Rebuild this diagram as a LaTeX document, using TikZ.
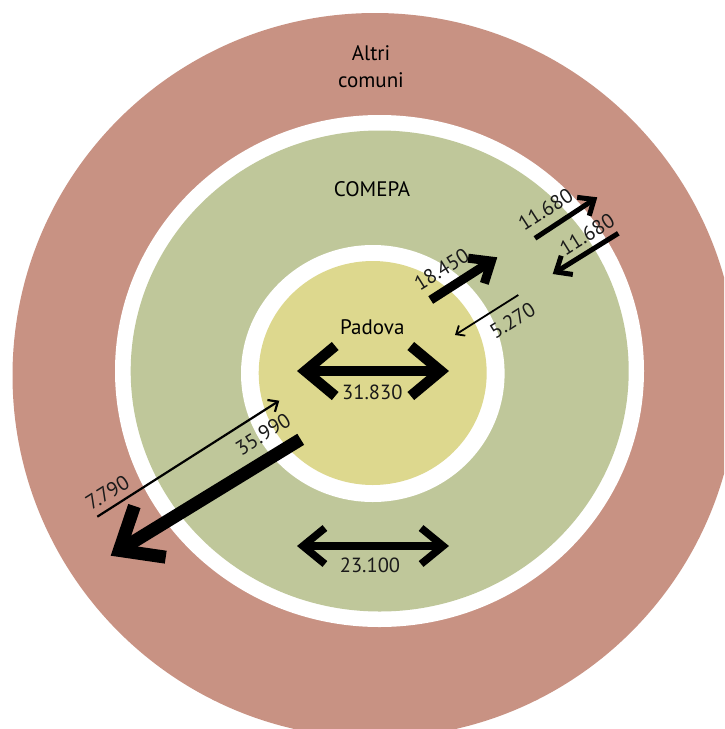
\documentclass[tikz,border=0pt]{standalone}
\usepackage{fontspec}
\setmainfont{PT Sans}
\usetikzlibrary{arrows.meta}
\definecolor{ringred}{HTML}{C89283}
\definecolor{ringgreen}{HTML}{BFC79A}
\definecolor{ringyellow}{HTML}{DDD88E}
\definecolor{ink}{HTML}{1A1A1A}
\tikzset{
  lbl/.style={font=\fontsize{20.5}{24}\selectfont, text=ink, inner sep=0pt},
  title/.style={font=\fontsize{21}{27}\selectfont, text=black, inner sep=0pt, align=center},
  flow/.style={draw=black, line cap=butt},
}
\begin{document}
\begin{tikzpicture}[x=1pt,y=-1pt]
\useasboundingbox (0,0) rectangle (724,729);
\clip (0,0) rectangle (724,729);
\fill[white] (0,0) rectangle (724,729);
% rings
\fill[ringred] (375,375.5) circle (362.5);
\fill[white] (379.5,371) ellipse [x radius=264.5, y radius=256];
\fill[ringgreen] (379.7,371) ellipse [x radius=249, y radius=240.5];
\fill[white] (372.8,373.5) ellipse [x radius=131.8, y radius=128.5];
\fill[ringyellow] (372.7,373) ellipse [x radius=114, y radius=112];
% titles
\node[title] (altri) at (371,66.5) {Altri\\comuni};
\node[title] (comepa) at (372,189.5) {COMEPA};
\node[title] (padova) at (372.3,327) {Padova};
% coordinates
\coordinate (pL) at (297,371); \coordinate (pR) at (449,371);
\coordinate (cL) at (297,546); \coordinate (cR) at (449,546);
\coordinate (a1s) at (430.7,300); \coordinate (a1e) at (497.3,257.3);
\coordinate (a2s) at (518.3,295); \coordinate (a2e) at (455,335);
\coordinate (a3s) at (535,238.3); \coordinate (a3e) at (597.3,197.3);
\coordinate (a4s) at (618.3,233.3); \coordinate (a4e) at (552.7,274);
\coordinate (a5s) at (97.3,516.7); \coordinate (a5e) at (279.3,400.7);
\coordinate (a6s) at (300.7,439.3); \coordinate (a6e) at (110.7,555.7);
% arrows
\draw[flow, line width=10.5pt, {Straight Barb[length=30pt,width=50pt]}-{Straight Barb[length=30pt,width=50pt]}] (pL) -- (pR);
\draw[flow, line width=7.5pt, {Straight Barb[length=22pt,width=36pt]}-{Straight Barb[length=22pt,width=36pt]}] (cL) -- (cR);
\draw[flow, line width=9pt, -{Straight Barb[length=18pt,width=30pt]}] (a1s) -- (a1e);
\draw[flow, line width=1.8pt, -{Straight Barb[length=7pt,width=12pt]}] (a2s) -- (a2e);
\draw[flow, line width=5pt, -{Straight Barb[length=13pt,width=22pt]}] (a3s) -- (a3e);
\draw[flow, line width=5pt, -{Straight Barb[length=13pt,width=22pt]}] (a4s) -- (a4e);
\draw[flow, line width=2.2pt, -{Straight Barb[length=8pt,width=14pt]}] (a5s) -- (a5e);
\draw[flow, line width=13pt, -{Straight Barb[length=36pt,width=60pt]}] (a6s) -- (a6e);
% labels
\node[lbl] (l31) at (372.3,392.7) {31.830};
\node[lbl] (l23) at (370,565.7) {23.100};
\node[lbl, rotate=32] (l18) at (441.5,269.5) {18.450};
\node[lbl, rotate=32] (l5) at (512.5,320.5) {5.270};
\node[lbl, rotate=33] (l11a) at (545.5,209.5) {11.680};
\node[lbl, rotate=32] (l11b) at (587,234.5) {11.680};
\node[lbl, rotate=32] (l7) at (107.5,492.5) {7.790};
\node[lbl, rotate=32] (l35) at (263,434) {35.990};
\end{tikzpicture}
\end{document}
